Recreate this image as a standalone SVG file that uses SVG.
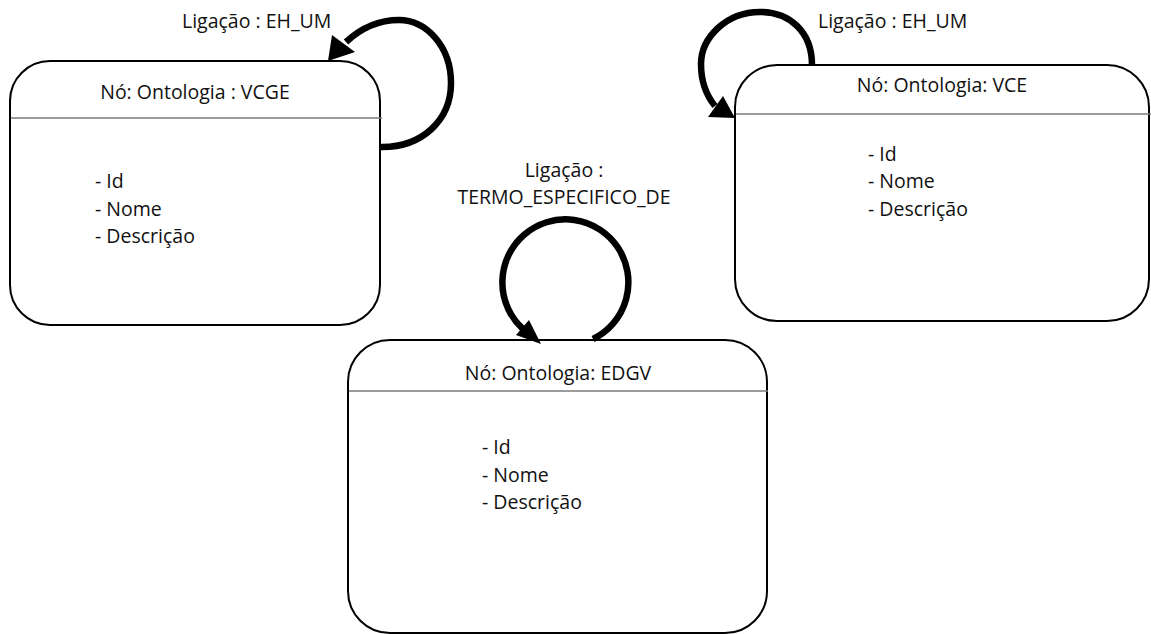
<svg xmlns="http://www.w3.org/2000/svg" width="1151" height="634" viewBox="0 0 1151 634">
<style>
.box{fill:#fff;stroke:#000;stroke-width:2}
.sep{stroke:#7a7a7a;stroke-width:1.5}
.t{font-family:"Open Sans","Liberation Sans",sans-serif;font-size:19.5px;fill:#111}
.mid{text-anchor:middle}
.edge{fill:none;stroke:#000;stroke-width:6.5}
.head{fill:#000}
</style>
<rect width="1151" height="634" fill="#fff"/>
<g id="node-vcge">
<rect class="box" x="10" y="61" width="370" height="264" rx="40" ry="40"/>
<line class="sep" x1="11" y1="118" x2="382" y2="118"/>
<text class="t mid" x="195" y="99">Nó: Ontologia : VCGE</text>
<text class="t" x="95" y="188">- Id</text>
<text class="t" x="95" y="215.5">- Nome</text>
<text class="t" x="95" y="242.5">- Descrição</text>
</g>
<g id="node-vce">
<rect class="box" x="735" y="65" width="414" height="256" rx="42" ry="42"/>
<line class="sep" x1="736" y1="114" x2="1151" y2="114"/>
<text class="t mid" x="942" y="92">Nó: Ontologia: VCE</text>
<text class="t" x="868" y="161">- Id</text>
<text class="t" x="868" y="188">- Nome</text>
<text class="t" x="868" y="216">- Descrição</text>
</g>
<g id="node-edgv">
<rect class="box" x="348" y="340" width="419" height="293" rx="42" ry="42"/>
<line class="sep" x1="349" y1="391" x2="768" y2="391"/>
<text class="t mid" x="558" y="380">Nó: Ontologia: EDGV</text>
<text class="t" x="482" y="454">- Id</text>
<text class="t" x="482" y="481.5">- Nome</text>
<text class="t" x="482" y="509">- Descrição</text>
</g>
<g id="connectors">
<g id="edge-vcge">
<path class="edge" d="M 380 147 C 422 148, 451 120, 451 83 C 451 46, 426 20, 399 20 C 378 20, 360 29, 346 42"/>
<polygon class="head" points="332,35 355,52 328,61"/>
<text class="t" x="182" y="28">Ligação : EH_UM</text>
</g>
<g id="edge-vce">
<path class="edge" d="M 812 65 C 812 32, 790 12, 760 12 C 726 12, 701 38, 701 64 C 701 82, 706 95, 715 106"/>
<polygon class="head" points="708,117 723,96 735,118"/>
<text class="t" x="818" y="28">Ligação : EH_UM</text>
</g>
<g id="edge-edgv">
<path class="edge" d="M 593 339 A 63 63 0 1 0 523 329"/>
<polygon class="head" points="516,335 529,320 541,344"/>
<text class="t mid" x="564" y="177">Ligação :</text>
<text class="t mid" x="564" y="204">TERMO_ESPECIFICO_DE</text>
</g>
</g>
</svg>
